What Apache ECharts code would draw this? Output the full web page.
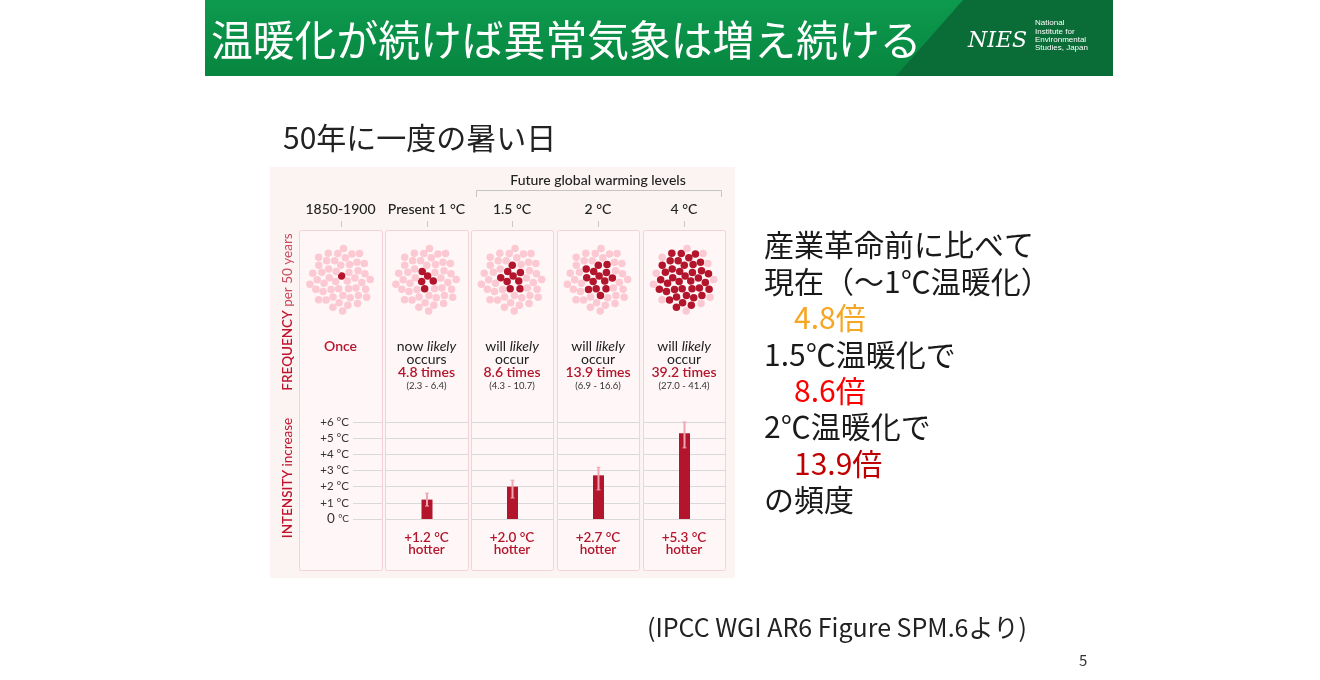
<!DOCTYPE html>
<html><head><meta charset="utf-8">
<script src="https://cdn.jsdelivr.net/npm/echarts@6/dist/echarts.min.js"></script>
<style>html,body{margin:0;padding:0;background:#fff}#c{width:1320px;height:680px}</style>
</head><body><div id="c"></div>
<script>
// ---------- data ----------
const slideTitle = '温暖化が続けば異常気象は増え続ける';
const chartTitle = '50年に一度の暑い日';
const columns = ['1850-1900', 'Present 1 °C', '1.5 °C', '2 °C', '4 °C'];
const futureLabel = 'Future global warming levels';
const introWord = ['', 'now', 'will', 'will', 'will'];
const verbWord = ['', 'occurs', 'occur', 'occur', 'occur'];
const frequency = [1, 4.8, 8.6, 13.9, 39.2];
const freqLow = [null, 2.3, 4.3, 6.9, 27.0];
const freqHigh = [null, 6.4, 10.7, 16.6, 41.4];
const dotsPerPanel = 50;
const intensity = [null, 1.2, 2.0, 2.7, 5.3];
const intensityLow = [null, 0.8, 1.3, 1.8, 4.4];
const intensityHigh = [null, 1.6, 2.4, 3.2, 6.0];
const intensityTicks = ['0', '+1', '+2', '+3', '+4', '+5', '+6'];
const noteLines = ['産業革命前に比べて', '現在（～1℃温暖化）', '4.8倍', '1.5℃温暖化で', '8.6倍', '2℃温暖化で', '13.9倍', 'の頻度'];
const noteColors = ['#1a1a1a', '#1a1a1a', '#f5a623', '#1a1a1a', '#ff0000', '#1a1a1a', '#c00000', '#1a1a1a'];
const noteIndent = [0, 0, 1, 0, 1, 0, 1, 0];
const sourceText = '(IPCC WGI AR6 Figure SPM.6より)';
const pageNumber = '5';
const logoLines = ['National', 'Institute for', 'Environmental', 'Studies, Japan'];

// ---------- layout ----------
const RED = '#b3152c', PINK = '#fcc8d2';
const FIG = 'Lato, "Noto Sans", sans-serif';
const JP = '"Noto Sans CJK JP", sans-serif';
const panelL = [299, 385, 471, 557, 643];
const panelR = [382, 468, 553, 639, 725];
const cx = panelL.map((l, i) => (l + panelR[i]) / 2);
const clusterY = 279;

const chart = echarts.init(document.getElementById('c'), null, {renderer: 'canvas'});
const grids = [], xAxes = [], yAxes = [], series = [], graphic = [];

// header
graphic.push({type: 'rect', shape: {x: 205, y: 0, width: 908, height: 76},
  style: {fill: new echarts.graphic.LinearGradient(0, 0, 0, 1, [{offset: 0, color: '#0d9a4f'}, {offset: 1, color: '#07853f'}])}, z: 1});
graphic.push({type: 'polygon', shape: {points: [[963, 0], [1113, 0], [1113, 76], [896, 76]]}, style: {fill: '#0a6d37'}, z: 2});
graphic.push({type: 'text', x: 211, y: 40, style: {text: slideTitle, fill: '#fff', font: '41.8px ' + JP, textVerticalAlign: 'middle'}, z: 3});
graphic.push({type: 'text', x: 968, y: 41, style: {text: 'NIES', fill: '#fff', font: 'italic 22px "DejaVu Serif", serif', textVerticalAlign: 'middle'}, z: 3});
logoLines.forEach((t, i) => graphic.push({type: 'text', x: 1035, y: 23 + i * 8.3, style: {text: t, fill: '#fff', font: '8px "Liberation Sans Narrow", "Liberation Sans", sans-serif', textVerticalAlign: 'middle'}, z: 3}));

// titles & notes
graphic.push({type: 'text', x: 283, y: 138, style: {text: chartTitle, fill: '#222', font: '30px ' + JP, textVerticalAlign: 'middle'}});
noteLines.forEach((t, i) => graphic.push({type: 'text', x: noteIndent[i] ? 794 : 764, y: 245 + i * 36.4,
  style: {text: t, fill: noteColors[i], font: '30px ' + JP, textVerticalAlign: 'middle'}}));
graphic.push({type: 'text', x: 647, y: 627, style: {text: sourceText, fill: '#222', font: '25px ' + JP, textVerticalAlign: 'middle'}});
graphic.push({type: 'text', x: 1079, y: 660, style: {text: pageNumber, fill: '#333', font: '15px ' + JP, textVerticalAlign: 'middle'}});

// figure background and panels
graphic.push({type: 'rect', shape: {x: 270, y: 167, width: 465, height: 411}, style: {fill: '#fcf3f3'}, z: 0});
panelL.forEach((l, i) => graphic.push({type: 'rect', shape: {x: l + 0.5, y: 230.5, width: panelR[i] - l, height: 340, r: 2},
  style: {fill: '#fff7f7', stroke: '#f4d2d7', lineWidth: 1}, z: 0}));
// future bracket
graphic.push({type: 'text', x: 598, y: 180, style: {text: futureLabel, fill: '#222', font: '500 14px ' + FIG, textAlign: 'center', textVerticalAlign: 'middle'}});
graphic.push({type: 'polyline', shape: {points: [[476.5, 197], [476.5, 190.5], [721.5, 190.5], [721.5, 197]]}, style: {stroke: '#c4c4c4', lineWidth: 1, fill: null}});
columns.forEach((c, i) => {
  graphic.push({type: 'text', x: cx[i], y: 209, style: {text: c, fill: '#222', font: '500 14px ' + FIG, textAlign: 'center', textVerticalAlign: 'middle'}});
  graphic.push({type: 'line', shape: {x1: Math.round(cx[i]) + 0.5, y1: 221, x2: Math.round(cx[i]) + 0.5, y2: 227}, style: {stroke: '#c8c8c8', lineWidth: 1}});
});
// vertical side labels
graphic.push({type: 'text', x: 288, y: 312, rotation: Math.PI / 2, style: {
  text: '{a|FREQUENCY}{b| per 50 years}', textAlign: 'center', textVerticalAlign: 'middle',
  rich: {a: {fill: '#c0142e', font: '600 13.5px ' + FIG}, b: {fill: '#c84a5c', font: '13.5px ' + FIG}}}});
graphic.push({type: 'text', x: 288, y: 478, rotation: Math.PI / 2, style: {
  text: '{a|INTENSITY}{b| increase}', textAlign: 'center', textVerticalAlign: 'middle',
  rich: {a: {fill: '#c0142e', font: '600 13.5px ' + FIG}, b: {fill: '#c0142e', font: '13.5px ' + FIG}}}});

// frequency texts
frequency.forEach((f, i) => {
  if (i === 0) {
    graphic.push({type: 'text', x: cx[i], y: 346, style: {text: 'Once', fill: RED, font: '600 14px ' + FIG, textAlign: 'center', textVerticalAlign: 'middle'}});
    return;
  }
  graphic.push({type: 'text', x: cx[i], y: 346, style: {text: '{a|' + introWord[i] + ' }{b|likely}', textAlign: 'center', textVerticalAlign: 'middle',
    rich: {a: {fill: '#222', font: '14px ' + FIG}, b: {fill: '#222', font: 'italic 14px ' + FIG}}}});
  graphic.push({type: 'text', x: cx[i], y: 359, style: {text: verbWord[i], fill: '#222', font: '14px ' + FIG, textAlign: 'center', textVerticalAlign: 'middle'}});
  graphic.push({type: 'text', x: cx[i], y: 372, style: {text: f.toFixed(1) + ' times', fill: RED, font: '600 14px ' + FIG, textAlign: 'center', textVerticalAlign: 'middle'}});
  graphic.push({type: 'text', x: cx[i], y: 386, style: {text: '(' + freqLow[i].toFixed(1) + ' - ' + freqHigh[i].toFixed(1) + ')', fill: '#333', font: '9.5px ' + FIG, textAlign: 'center', textVerticalAlign: 'middle'}});
});
// intensity texts
intensity.forEach((v, i) => {
  if (v == null) return;
  graphic.push({type: 'text', x: cx[i], y: 538, style: {text: '+' + v.toFixed(1) + ' °C', fill: RED, font: '600 13.5px ' + FIG, textAlign: 'center', textVerticalAlign: 'middle'}});
  graphic.push({type: 'text', x: cx[i], y: 550, style: {text: 'hotter', fill: RED, font: '600 13.5px ' + FIG, textAlign: 'center', textVerticalAlign: 'middle'}});
});

// dot clusters (sunflower layout of 50 dots; first N red)
const GA = Math.PI * (3 - Math.sqrt(5));
frequency.forEach((f, i) => {
  const gi = grids.length;
  grids.push({left: cx[i] - 36, top: clusterY - 36, width: 72, height: 72});
  xAxes.push({gridIndex: gi, type: 'value', min: -36, max: 36, show: false});
  yAxes.push({gridIndex: gi, type: 'value', min: -36, max: 36, show: false});
  const nRed = Math.round(f);
  const pts = [];
  for (let k = 0; k < dotsPerPanel; k++) {
    const r = 4.45 * Math.sqrt(k + 0.5), a = k * GA + 1.2;
    pts.push({value: [r * Math.cos(a), r * Math.sin(a) * 1.06], itemStyle: {color: k < nRed ? RED : PINK, opacity: 1}});
  }
  series.push({type: 'scatter', xAxisIndex: gi, yAxisIndex: gi, symbolSize: 7.5, data: pts, silent: true, animation: false,
    itemStyle: {opacity: 1}});
});

// intensity bars
intensity.forEach((v, i) => {
  const gi = grids.length;
  const left = i === 0 ? 353 : panelL[i] + 1;
  grids.push({left: left, width: panelR[i] - left, top: 422, height: 97});
  xAxes.push({gridIndex: gi, type: 'category', data: [columns[i]], show: false});
  yAxes.push({gridIndex: gi, type: 'value', min: 0, max: 6, interval: 1,
    axisLine: {show: false}, axisTick: {show: false},
    splitLine: {show: true, lineStyle: {color: '#d9d9d9', width: 1}},
    axisLabel: {show: i === 0, margin: 4, formatter: (val) => {
      const t = intensityTicks[Math.round(val)];
      return t === '0' ? '{z|0} {u|°C}' : '{n|' + t + ' °C}';
    }, rich: {n: {fontFamily: FIG, fontSize: 11.5, color: '#333'}, z: {fontFamily: FIG, fontSize: 13.5, color: '#333'}, u: {fontFamily: FIG, fontSize: 10, color: '#333'}}}});
  if (v == null) return;
  series.push({type: 'bar', xAxisIndex: gi, yAxisIndex: gi, data: [v], barWidth: 11, itemStyle: {color: RED}, silent: true, animation: false});
  series.push({type: 'custom', xAxisIndex: gi, yAxisIndex: gi, data: [[0, intensityLow[i], intensityHigh[i]]], z: 5, silent: true, animation: false,
    renderItem: (params, api) => {
      const lo = api.coord([api.value(0), api.value(1)]);
      const hi = api.coord([api.value(0), api.value(2)]);
      const st = {stroke: '#f0a5b3', lineWidth: 2};
      return {type: 'group', children: [
        {type: 'line', shape: {x1: lo[0], y1: lo[1], x2: hi[0], y2: hi[1]}, style: st},
        {type: 'line', shape: {x1: hi[0] - 2, y1: hi[1], x2: hi[0] + 2, y2: hi[1]}, style: {stroke: '#f0a5b3', lineWidth: 1}},
        {type: 'line', shape: {x1: lo[0] - 2, y1: lo[1], x2: lo[0] + 2, y2: lo[1]}, style: {stroke: '#f0a5b3', lineWidth: 1}}
      ]};
    }});
});

chart.setOption({animation: false, backgroundColor: '#fff', grid: grids, xAxis: xAxes, yAxis: yAxes, series: series, graphic: graphic});
</script></body></html>
